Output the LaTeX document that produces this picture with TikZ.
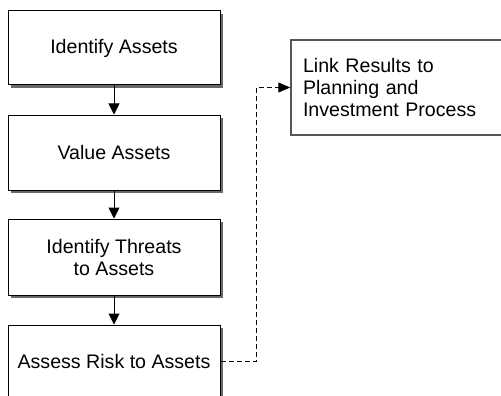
\documentclass[tikz,border=0pt]{standalone}
\usepackage{fontspec}
\setmainfont{Liberation Sans}
\usepackage{xcolor}
\usetikzlibrary{calc,shadows,arrows.meta}
\definecolor{primary}{RGB}{0, 0, 0}
\definecolor{shade}{RGB}{105, 105, 105}
\definecolor{frame}{RGB}{85, 85, 85}

\begin{document}
\begin{tikzpicture}[x=1pt,y=-1pt,
  stepbox/.style={draw=primary,line width=1pt,fill=white,inner sep=0pt,align=center,
    minimum width=212pt,font=\fontsize{19.6}{22}\selectfont,
    drop shadow={shadow xshift=3pt,shadow yshift=-3pt,fill=shade,opacity=1}},
  linkbox/.style={draw=frame,line width=1.5pt,fill=white,inner xsep=12pt,inner ysep=0pt,
    text width=200pt,minimum height=95pt,align=left,font=\fontsize{19.6}{22}\selectfont},
  flow/.style={primary,line width=1pt,-{Triangle[length=11pt,width=11pt]}},
  feed/.style={primary,line width=1pt,dash pattern=on 5pt off 3pt,-{Triangle[length=12pt,width=10pt]}}]
\useasboundingbox (0,0) rectangle (501,396);
\clip (0,0) rectangle (501,396);
\node[stepbox,minimum height=74pt] (assets) at (114,48) {Identify Assets};
\node[stepbox,minimum height=75pt] (value) at (114,152.5) {Value Assets};
\node[stepbox,minimum height=76pt] (threats) at (114,257) {Identify Threats\\to Assets};
\node[stepbox,minimum height=72pt] (risk) at (114,361) {Assess Risk to Assets};
\node[linkbox] (link) at (403,87.5) {Link Results to\\Planning and\\Investment Process};
\draw[flow] (assets) -- (value);
\draw[flow] (value) -- (threats);
\draw[flow] (threats) -- (risk);
\draw[feed] (risk.east) -- ++(36,0) coordinate (bend) |- (link.west);
\end{tikzpicture}
\end{document}
